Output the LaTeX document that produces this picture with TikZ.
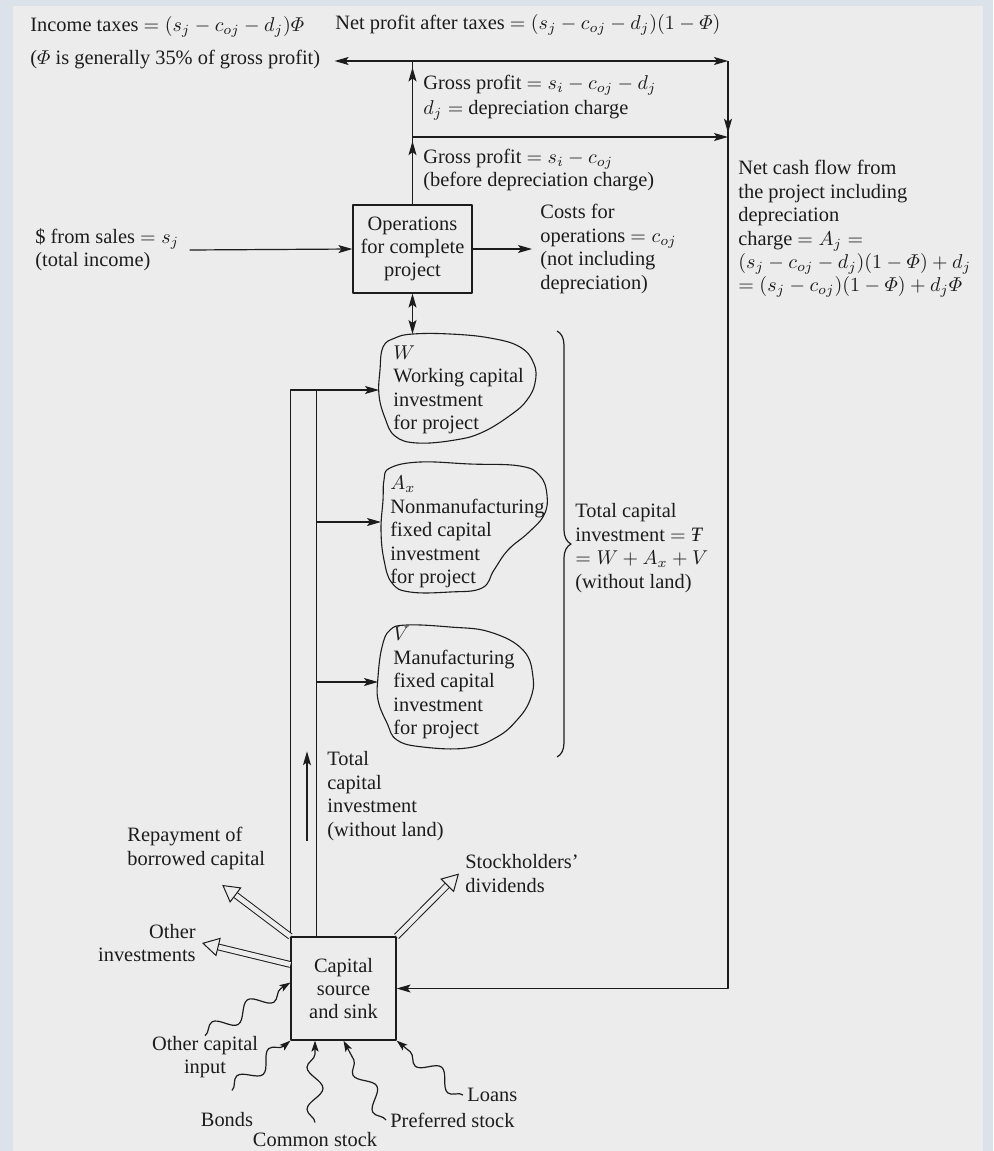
\documentclass[tikz,border=0pt]{standalone}
\usepackage{amsmath}
\usepackage{fontspec}
\setmainfont{Liberation Serif}
\usepackage{tikz}
\usetikzlibrary{arrows.meta,positioning,decorations.pathmorphing,decorations.pathreplacing,decorations.markings}
\definecolor{pagegray}{RGB}{236,236,236}
\definecolor{framegray}{RGB}{219,226,233}
\definecolor{inkblack}{RGB}{28,28,28}
\tikzset{
  flowlabel/.style={
    inner sep=0pt,
    align=left,
    text=inkblack
  },
  flowbox/.style={
    draw=inkblack,
    line width=0.6pt,
    align=center,
    text=inkblack,
    inner sep=2pt
  },
  flowline/.style={draw=inkblack, line width=0.6pt},
  flowarrow/.style={flowline, -{Stealth[length=7pt,width=4pt,inset=1.5pt]}},
  twoway/.style={flowline, {Stealth[length=7pt,width=4pt,inset=1.5pt]}-{Stealth[length=7pt,width=4pt,inset=1.5pt]}},
  fatarrow/.style={
    draw=inkblack,
    line width=0.5pt,
    double=pagegray,
    double distance=2.4pt,
    -{Triangle[open,length=8.5pt,width=9.5pt,fill=pagegray,line width=0.5pt]}
  },
  wavyarrow/.style={
    flowline,
    -{Stealth[length=5.5pt,width=3.6pt,inset=1.2pt]},
    decorate,
    decoration={snake, amplitude=4pt, segment length=21pt, post length=4pt}
  },
  midtips/.style 2 args={
    postaction=decorate,
    decoration={markings,
      mark=at position #1 with {\arrow{Stealth[length=7pt,width=4pt,inset=1.5pt]}},
      mark=at position #2 with {\arrow{Stealth[length=7pt,width=4pt,inset=1.5pt]}}}
  },
  midtip/.style={
    postaction=decorate,
    decoration={markings,
      mark=at position #1 with {\arrow{Stealth[length=7pt,width=4pt,inset=1.5pt]}}}
  },
  blobline/.style={flowline, line width=0.55pt}
}
\begin{document}
\begin{tikzpicture}[x=0.5pt, y=-0.5pt, font=\fontsize{10.2}{11.7}\selectfont, line join=round]
\fill[framegray] (0,0) rectangle (993,1151);
\fill[pagegray] (13,6) rectangle (983,1151);
\useasboundingbox (0,0) rectangle (993,1151);

\node[flowbox, minimum width=59.5pt, minimum height=44pt] (opbox) at (412.5,249) {Operations\\for complete\\project};
\node[flowbox, minimum width=52.5pt, minimum height=51.5pt] (capbox) at (343.5,988.5) {Capital\\source\\and sink};

\node[flowlabel, anchor=west] (taxes) at (30,43) {Income taxes $= (s_j - c_{oj} - d_j)\varPhi$\\[5pt]($\varPhi$ is generally 35\% of gross profit)};
\node[flowlabel, anchor=west] (netprofit) at (335,25) {Net profit after taxes $= (s_j - c_{oj} - d_j)(1 - \varPhi)$};
\node[flowlabel, anchor=west] (gross) at (423,85) {Gross profit $= s_i - c_{oj} - d_j$};
\node[flowlabel, anchor=west] (deprec) at (423,110) {$d_j =$ depreciation charge};
\node[flowlabel, anchor=west] (grossbd) at (423,170) {Gross profit $= s_i - c_{oj}$\\(before depreciation charge)};
\node[flowlabel, anchor=west] (netcash) at (738,229) {Net cash flow from\\the project including\\depreciation\\charge $= A_j =$\\$(s_j - c_{oj} - d_j)(1 - \varPhi) + d_j$\\$= (s_j - c_{oj})(1 - \varPhi) + d_j\varPhi$};
\node[flowlabel, anchor=west] (sales) at (35,250) {\$ from sales $= s_j$\\(total income)};
\node[flowlabel, anchor=west] (costs) at (540,249) {Costs for\\operations $= c_{oj}$\\(not including\\depreciation)};

\node[flowlabel, anchor=west] (wcap) at (393,390) {$W$\\Working capital\\investment\\for project};
\node[flowlabel, anchor=west] (axcap) at (390,532) {$A_x$\\Nonmanufacturing\\fixed capital\\investment\\for project};
\node[flowlabel, anchor=west] (vcap) at (393,683) {$V$\\Manufacturing\\fixed capital\\investment\\for project};
\node[flowlabel, anchor=west] (totalinv) at (575,548) {Total capital\\investment $=$ \textit{Ŧ}\\$= W + A_x + V$\\(without land)};

\node[flowlabel, anchor=west] (totalcap) at (327,796) {Total\\capital\\investment\\(without land)};
\node[flowlabel, anchor=west] (repay) at (127,848.5) {Repayment of\\borrowed capital};
\node[flowlabel, anchor=east, align=right] (otherinv) at (196,943) {Other\\investments};
\node[flowlabel, anchor=west] (stock) at (465,873.5) {Stockholders'\\dividends};
\node[flowlabel, align=center] (othercap) at (205,1057) {Other capital\\input};
\node[flowlabel] (bonds) at (227,1120) {Bonds};
\node[flowlabel] (common) at (315,1140) {Common stock};
\node[flowlabel, anchor=west] (pref) at (390,1120) {Preferred stock};
\node[flowlabel, anchor=west] (loans) at (467,1095) {Loans};

\coordinate (tl) at (412.5,61);
\coordinate (tr) at (728,61);
\coordinate (mr) at (728,137);
\coordinate (wtop) at (412.5,334);
\coordinate (wport) at (379,390);
\coordinate (axport) at (381,522);
\coordinate (vport) at (378,682);
\coordinate (capin) at ([xshift=13pt]capbox.north west);
\coordinate (taxtip) at ([xshift=7pt]taxes.east);
\coordinate (costsin) at ([xshift=-4pt]costs.west);

\draw[blobline] plot[smooth cycle, tension=0.7] coordinates {(383,347) (395,338) (413,334) (450,334) (490,338) (520,347) (534,364) (535,383) (527,400) (512,414) (483,432) (455,440) (417,443) (395,436) (385,418) (379,395) (380,370)};
\draw[blobline] plot[smooth cycle, tension=0.7] coordinates {(390,468) (420,462) (470,464) (520,466) (540,476) (547,495) (544,515) (528,533) (508,550) (494,570) (482,588) (450,592) (410,592) (392,583) (384,560) (381,530) (383,500) (384,480)};
\draw[blobline] plot[smooth cycle, tension=0.7] coordinates {(390,630) (407,625) (450,627) (490,632) (523,650) (533,677) (530,700) (517,720) (497,737) (467,748) (423,747) (397,740) (387,723) (378,700) (378,677) (382,647)};
\draw[flowline, decorate, decoration={brace, amplitude=7pt, aspect=0.5}] (557,331) -- (557,757);

\draw[flowarrow] (tl) -- (taxtip |- tl);
\draw[flowarrow] (tl) -- (tr);
\draw[flowline, midtips={0.441}{0.955}] (opbox.north) -- (tl);
\draw[flowarrow] (opbox.north |- mr) -- (mr);
\draw[flowarrow, midtip=0.057] (tr) -- (tr |- capbox.east) -- (capbox.east);
\draw[flowarrow] ([xshift=5pt]sales.east) -- (opbox.west);
\draw[flowarrow] (opbox.east) -- (opbox.east -| costsin);
\draw[twoway] (opbox.south) -- (wtop);

\draw[flowarrow] (capbox.north west) -- (capbox.north west |- wport) -- (wport);
\draw[flowline] (capin) -- (capin |- wport);
\draw[flowarrow] (capin |- axport) -- (axport);
\draw[flowarrow] (capin |- vport) -- (vport);
\draw[flowarrow] ([xshift=-10pt]totalcap.south west) -- ([xshift=-10pt]totalcap.north west);

\draw[fatarrow] (capbox.north west) -- ([shift={(26,15)}]repay.south);
\draw[fatarrow] ([yshift=12pt]capbox.west) -- ([xshift=3pt]otherinv.east);
\draw[fatarrow] (capbox.north east) -- ([xshift=-3pt]stock.west);

\draw[wavyarrow] (othercap.north) -- ([yshift=3pt]capbox.west);
\draw[wavyarrow] ([shift={(5,-22)}]bonds.north) -- (capbox.south west);
\draw[wavyarrow] ([yshift=5pt]common.north) -- (capbox.south -| common.north);
\draw[wavyarrow] ([xshift=-2pt]pref.west) -- (capbox.south);
\draw[wavyarrow] ([xshift=-2pt]loans.west) -- (capbox.south east);
\end{tikzpicture}
\end{document}
